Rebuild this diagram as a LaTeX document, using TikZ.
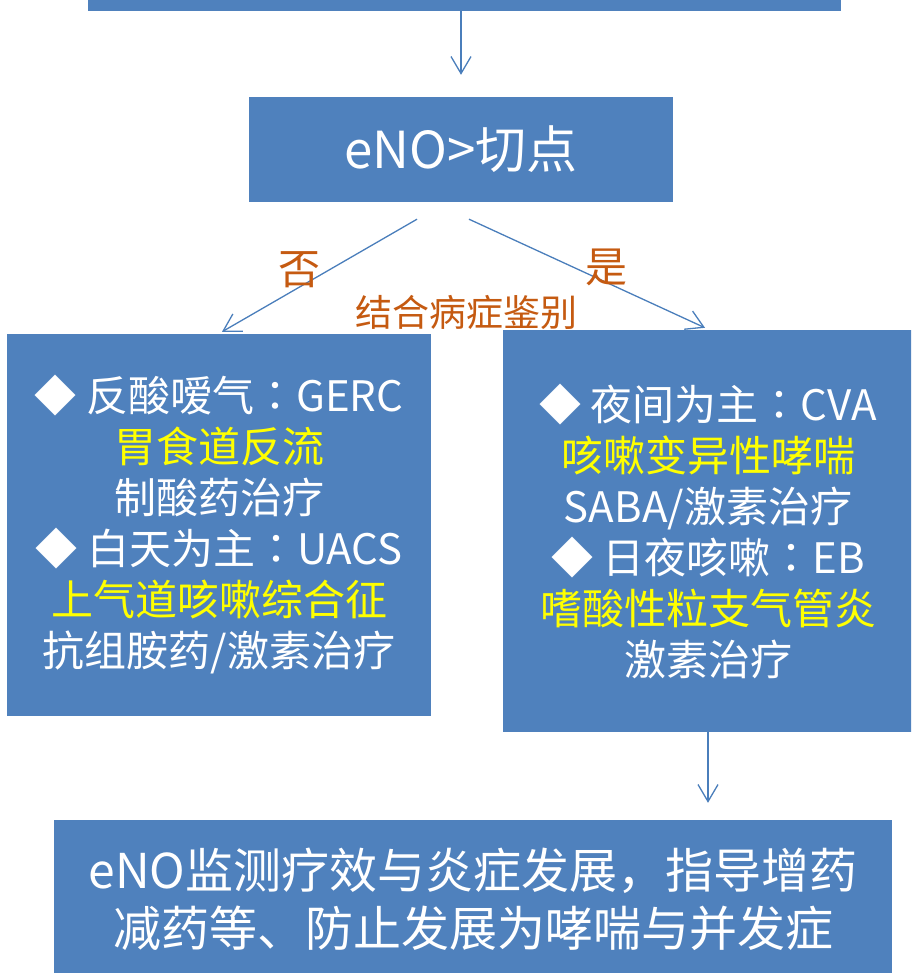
\documentclass[tikz,border=0pt]{standalone}
\usepackage{fontspec}
\setmainfont{Noto Sans CJK SC}
\newfontfamily\cjkjp{Noto Sans CJK JP}
\usetikzlibrary{arrows.meta}
\definecolor{boxblue}{RGB}{79,129,189}
\definecolor{arrblue}{RGB}{74,126,187}
\definecolor{lblorange}{RGB}{197,90,17}
\definecolor{hlyellow}{RGB}{255,255,0}
\newcommand{\jpcolon}{{\cjkjp ：}}
\begin{document}
\begin{tikzpicture}[x=1pt,y=-1pt,
  box/.style={fill=boxblue, draw=none, text=white, inner sep=0pt, align=center},
  arr/.style={draw=arrblue, line width=1.3pt, -{Straight Barb[length=17pt,width=20pt]}},
  lbl/.style={text=lblorange, inner sep=0pt}]
\useasboundingbox (0,0) rectangle (911,973);
\clip (0,0) rectangle (911,973);
\node[box, minimum width=753pt, minimum height=52pt] (top) at (464.5,-15) {};
\node[box, minimum width=424pt, minimum height=105pt, font=\fontsize{51}{56}\selectfont] (eno) at (461,149.5) {eNO>切点};
\node[box, minimum width=424pt, minimum height=382pt, font=\fontsize{42}{51}\selectfont] (left) at (219,525)
  {◆ 反酸嗳气\jpcolon GERC\\ {\color{hlyellow}胃食道反流}\\ 制酸药治疗\\ ◆ 白天为主\jpcolon UACS\\ {\color{hlyellow}上气道咳嗽综合征}\\ 抗组胺药/激素治疗};
\node[box, minimum width=410pt, minimum height=402pt, font=\fontsize{42}{51}\selectfont] (right) at (708,531)
  {◆ 夜间为主\jpcolon CVA\\ {\color{hlyellow}咳嗽变异性哮喘}\\ SABA/激素治疗\\ ◆ 日夜咳嗽\jpcolon EB\\ {\color{hlyellow}嗜酸性粒支气管炎}\\ 激素治疗};
\node[box, minimum width=838pt, minimum height=158pt, font=\fontsize{48}{58}\selectfont] (bottom) at (473,899)
  {eNO监测疗效与炎症发展，指导增药\\ 减药等、防止发展为哮喘与并发症};
\draw[arr, shorten >=22pt] (top.south -| eno.north) -- (eno.north);
\draw[arr] ([xshift=-44pt,yshift=-17pt]eno.south) -- ([xshift=3pt,yshift=2pt]left.north);
\draw[arr] ([xshift=8pt,yshift=-17pt]eno.south) -- ([xshift=-3pt,yshift=2pt]right.north);
\draw[arr, shorten >=17pt] (right.south) -- (bottom.north -| right.south);
\node[lbl, font=\fontsize{42}{42}\selectfont] (no) at (299,270) {否};
\node[lbl, font=\fontsize{42}{42}\selectfont] (yes) at (606,267) {是};
\node[lbl, font=\fontsize{37}{37}\selectfont] (diff) at (466,312) {结合病症鉴别};
\end{tikzpicture}
\end{document}
